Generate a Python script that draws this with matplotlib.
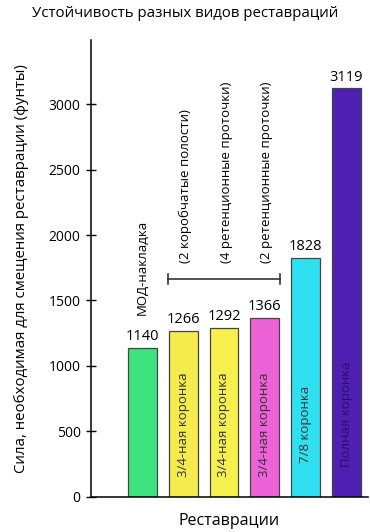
import matplotlib.pyplot as plt
import numpy as np

plt.rcParams['font.family'] = ['Open Sans', 'DejaVu Sans']

# data
values = [1140, 1266, 1292, 1366, 1828, 3119]
bar_names = ['', '3/4-ная коронка', '3/4-ная коронка', '3/4-ная коронка',
             '7/8 коронка', 'Полная коронка']
top_notes = ['МОД-накладка', '(2 коробчатые полости)',
             '(4 ретенционные проточки)', '(2 ретенционные проточки)']
colors = ['#3ee27c', '#f4ec4c', '#f6f04e', '#ee62d8', '#2ee0f0', '#4f1fb4']
name_colors = ['#222222', '#333333', '#333333', '#333333', '#333333', '#2a1060']
yticks = [0, 500, 1000, 1500, 2000, 2500, 3000]

x = np.arange(len(values))

fig = plt.figure(figsize=(3.7, 5.32), dpi=100)
ax = fig.add_axes([0.246, 0.066, 0.749, 0.859])

ax.bar(x, values, width=0.71, color=colors, edgecolor='#444444', linewidth=0.9)

for i, v in enumerate(values):
    ax.text(x[i], v + 30, str(v), ha='center', va='bottom', fontsize=10.5)

# names inside the bars
name_y = [0, 150, 150, 150, 260, 230]
for i, name in enumerate(bar_names):
    if name:
        ax.text(x[i], name_y[i], name, rotation=90, ha='center', va='bottom',
                fontsize=9.5, color=name_colors[i])

# notes above the bars
ax.text(x[0], 1390, top_notes[0], rotation=90, ha='center', va='bottom', fontsize=9.5)
for i in range(1, 4):
    ax.text(x[i] + 0.05, 1790, top_notes[i], rotation=90, ha='center', va='bottom',
            fontsize=9.5)

# bracket under the notes
ax.plot([0.63, 3.38], [1664, 1664], color='#333333', lw=1.2)
ax.plot([0.63, 0.63], [1625, 1700], color='#333333', lw=1.2)
ax.plot([3.38, 3.38], [1625, 1700], color='#333333', lw=1.2)

ax.set_xlim(-1.265, 5.54)
ax.set_ylim(0, 3490)
ax.set_yticks(yticks)
ax.set_xticks([])
ax.tick_params(axis='y', direction='inout', length=7, width=1, labelsize=10, pad=4)
for s in ['top', 'right']:
    ax.spines[s].set_visible(False)
ax.spines['left'].set_linewidth(1.1)
ax.spines['bottom'].set_linewidth(1.1)

ax.set_ylabel('Сила, необходимая для смещения реставрации (фунты)', fontsize=10.8)
ax.yaxis.set_label_coords(-0.225, 0.5)
ax.set_xlabel('Реставрации', fontsize=11.5)
ax.xaxis.set_label_coords(0.498, -0.035)
fig.text(0.5, 0.974, 'Устойчивость разных видов реставраций', ha='center',
         va='center', fontsize=10.8)

fig.savefig('out.png', dpi=100)
